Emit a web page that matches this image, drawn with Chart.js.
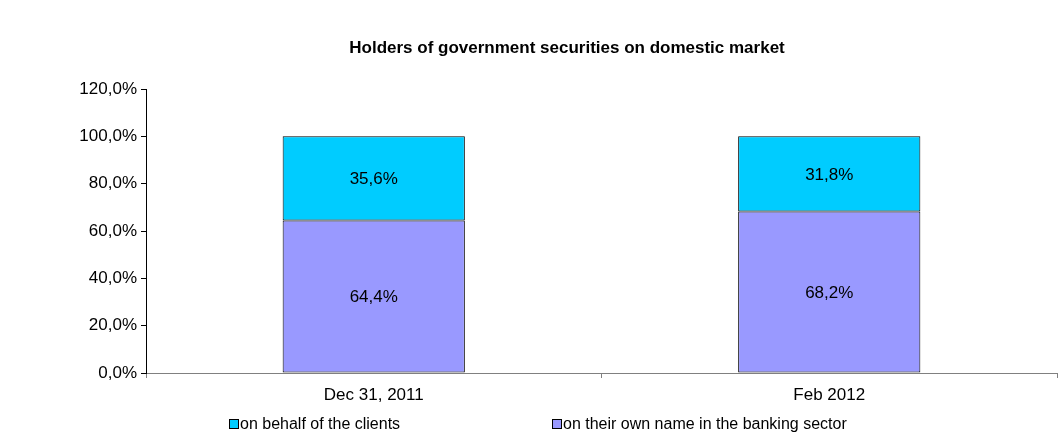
<!DOCTYPE html>
<html>
<head>
<meta charset="utf-8">
<script src="https://cdn.jsdelivr.net/npm/chart.js@4/dist/chart.umd.min.js"></script>
<style>
  html, body { margin: 0; padding: 0; background: #fff; }
  #wrap { width: 1061px; height: 446px; position: relative; }
</style>
</head>
<body>
<div id="wrap"><canvas id="chart"></canvas></div>
<script>
// Chart data
const categories = ['Dec 31, 2011', 'Feb 2012'];
const ownNameValues = [64.4, 68.2];
const clientsValues = [35.6, 31.8];
const seriesLabels = ['on behalf of the clients', 'on their own name in the banking sector'];
const yTicks = [0, 20, 40, 60, 80, 100, 120];

const FONT = '"Liberation Sans", Arial, sans-serif';

function formatPct(v) {
    return v.toFixed(1).replace('.', ',') + '%';
}

// Draws title, value labels and bottom legend
const decorPlugin = {
    id: 'decor',
    afterDatasetsDraw(chart) {
        const ctx = chart.ctx;
        ctx.save();
        ctx.fillStyle = '#000';
        ctx.font = '17px ' + FONT;
        ctx.textAlign = 'center';
        ctx.textBaseline = 'middle';
        chart.data.datasets.forEach((ds, i) => {
            chart.getDatasetMeta(i).data.forEach((bar, j) => {
                const mid = (bar.y + bar.base) / 2;
                ctx.fillText(formatPct(ds.data[j]), bar.x, mid + 1);
            });
        });
        ctx.restore();
    },
    afterDraw(chart) {
        const ctx = chart.ctx;
        ctx.save();
        // title
        ctx.fillStyle = '#000';
        ctx.font = 'bold 17px ' + FONT;
        ctx.textAlign = 'center';
        ctx.textBaseline = 'middle';
        ctx.fillText('Holders of government securities on domestic market', 567, 48);

        // legend
        const items = [
            { label: seriesLabels[0], color: '#00CCFF', x: 229 },
            { label: seriesLabels[1], color: '#9999FF', x: 552 }
        ];
        ctx.font = '16px ' + FONT;
        ctx.textAlign = 'left';
        items.forEach(it => {
            ctx.fillStyle = it.color;
            ctx.fillRect(it.x, 419, 9, 9);
            ctx.strokeStyle = '#000';
            ctx.lineWidth = 1;
            ctx.strokeRect(it.x + 0.5, 419.5, 9, 9);
            ctx.fillStyle = '#000';
            ctx.fillText(it.label, it.x + 11, 425);
        });
        ctx.restore();
    }
};

new Chart(document.getElementById('chart').getContext('2d'), {
    type: 'bar',
    data: {
        labels: categories,
        datasets: [
            {
                label: seriesLabels[1],
                data: ownNameValues,
                backgroundColor: '#9999FF',
                borderColor: '#000000',
                borderWidth: 1,
                borderSkipped: false,
                categoryPercentage: 1,
                barPercentage: 0.4
            },
            {
                label: seriesLabels[0],
                data: clientsValues,
                backgroundColor: '#00CCFF',
                borderColor: '#000000',
                borderWidth: 1,
                borderSkipped: false,
                categoryPercentage: 1,
                barPercentage: 0.4
            }
        ]
    },
    options: {
        responsive: true,
        maintainAspectRatio: false,
        animation: false,
        layout: {
            padding: { top: 89, right: 4, bottom: 43, left: 0 }
        },
        plugins: {
            legend: { display: false },
            title: { display: false },
            tooltip: { enabled: false }
        },
        scales: {
            x: {
                stacked: true,
                offset: true,
                grid: {
                    offset: true,
                    drawOnChartArea: false,
                    drawTicks: true,
                    tickLength: 5,
                    color: '#808080'
                },
                border: { display: true, color: '#808080', width: 1 },
                ticks: {
                    color: '#000',
                    padding: 7,
                    font: { family: FONT, size: 17 }
                },
                afterFit(scale) { scale.height = 30; }
            },
            y: {
                stacked: true,
                min: 0,
                max: 120,
                afterBuildTicks(scale) {
                    scale.ticks = yTicks.map(v => ({ value: v }));
                },
                grid: {
                    drawOnChartArea: false,
                    drawTicks: true,
                    tickLength: 5,
                    color: '#000'
                },
                border: { display: true, color: '#000', width: 1 },
                ticks: {
                    color: '#000',
                    padding: 4,
                    font: { family: FONT, size: 17 },
                    callback: v => formatPct(v)
                },
                afterFit(scale) { scale.width = 146; }
            }
        }
    },
    plugins: [decorPlugin]
});
</script>
</body>
</html>
